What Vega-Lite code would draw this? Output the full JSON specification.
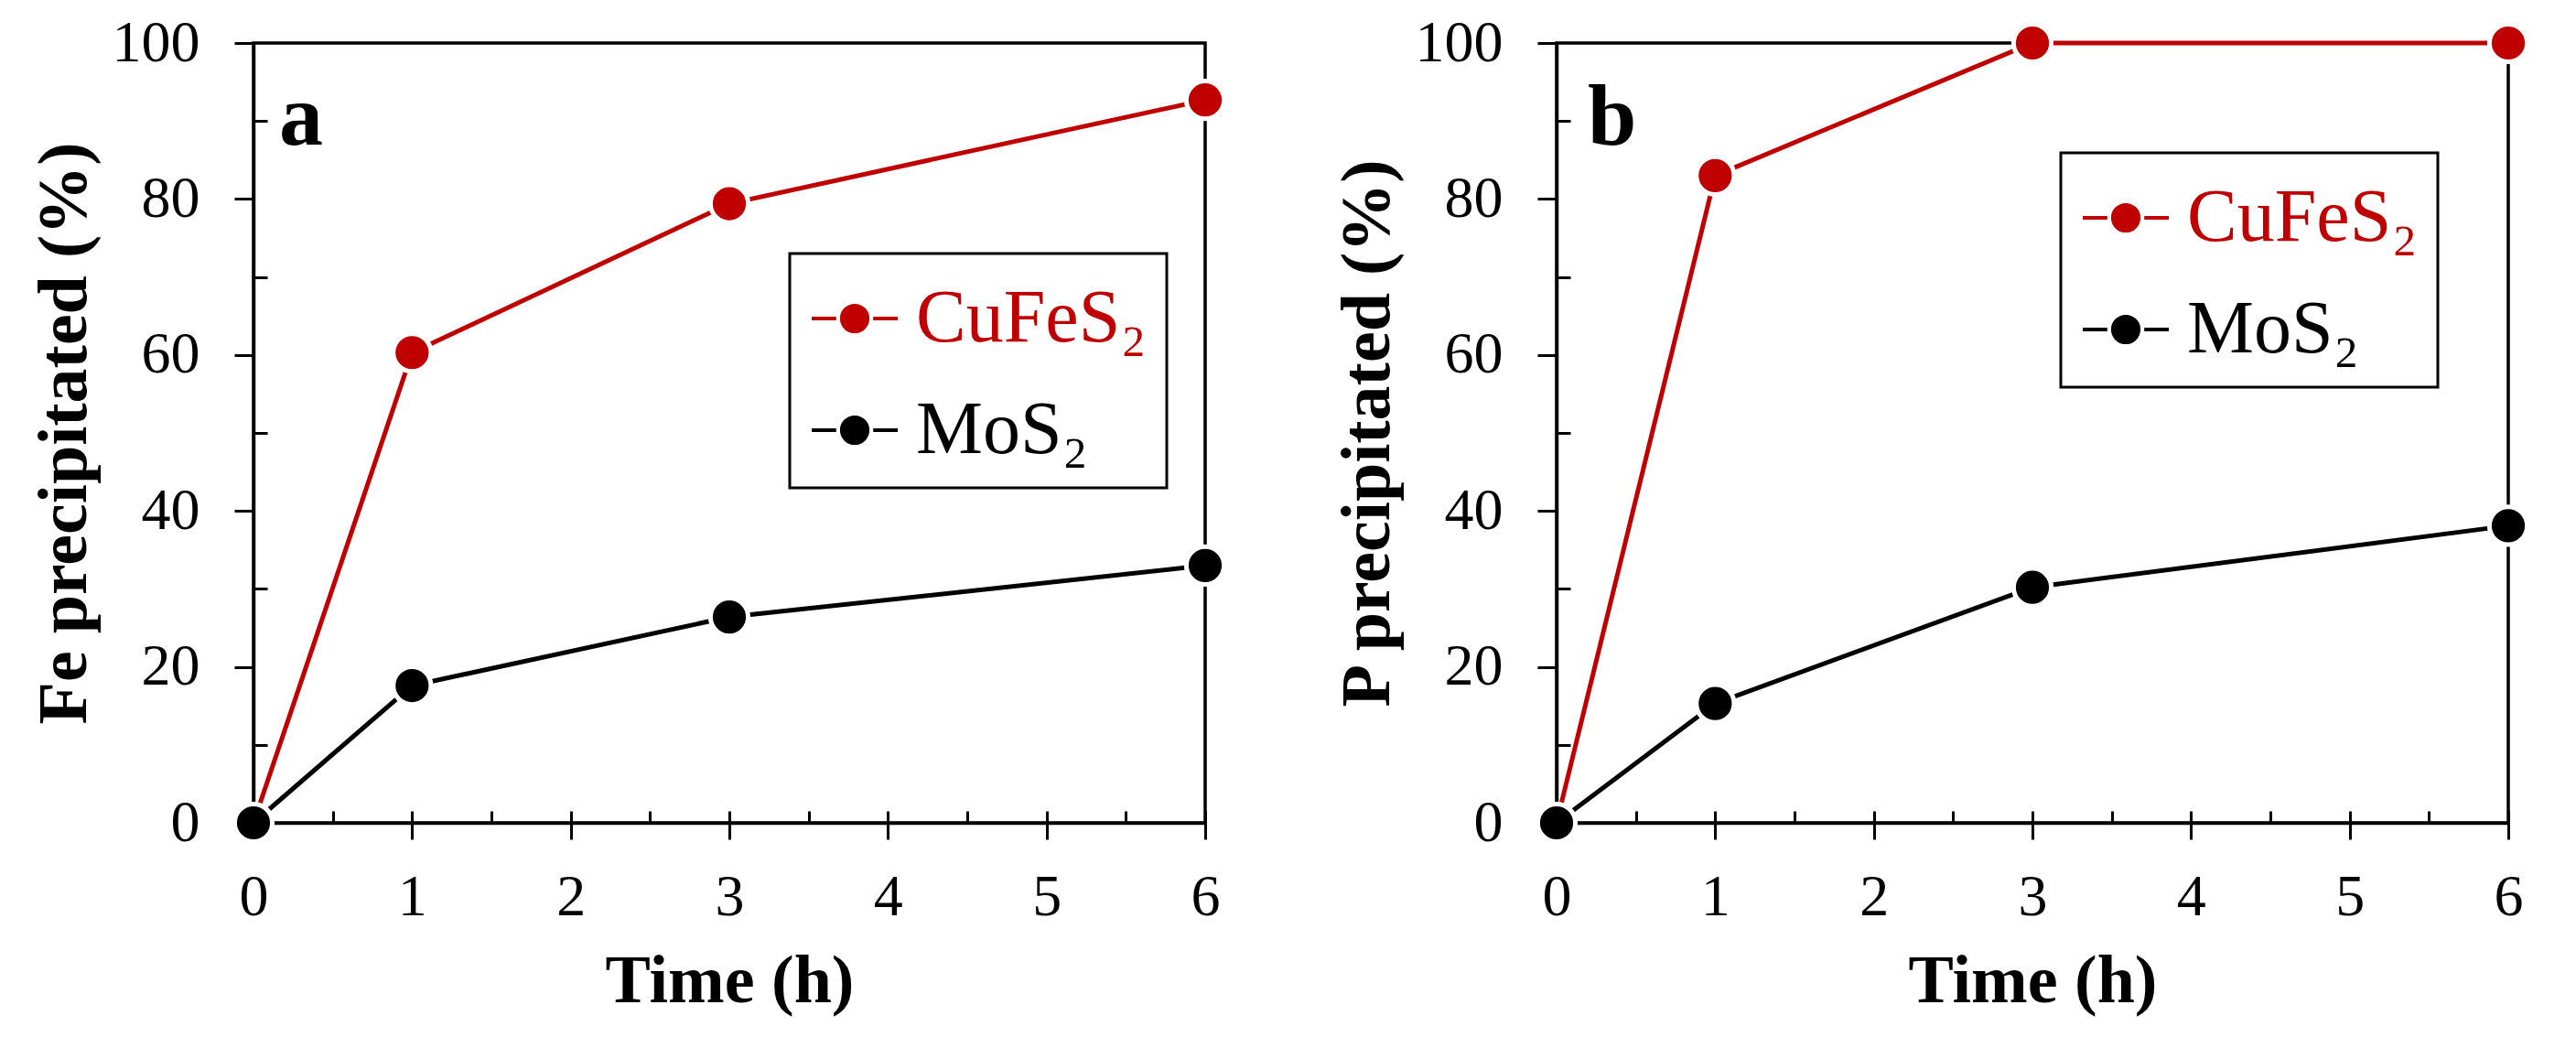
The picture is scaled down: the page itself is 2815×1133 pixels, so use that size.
{
  "$schema": "https://vega.github.io/schema/vega-lite/v6.json",
  "background": "white",
  "padding": {"left": 30, "top": 13, "right": 5, "bottom": 5},
  "spacing": 384,
  "bounds": "flush",
  "config": {
    "font": "Liberation Serif",
    "view": {"stroke": "black", "strokeWidth": 3.5},
    "axis": {
      "grid": false,
      "labelFlush": false,
      "labelOverlap": false,
      "domainColor": "black",
      "domainWidth": 3.5,
      "tickColor": "black",
      "tickWidth": 3,
      "labelFont": "Liberation Serif",
      "labelFontSize": 64,
      "labelColor": "black",
      "titleFont": "Liberation Serif",
      "titleFontSize": 74,
      "titleFontWeight": "bold",
      "titleColor": "black"
    }
  },
  "datasets": {
    "fe": [
      {"series": "CuFeS₂", "time": 0, "pct": 0},
      {"series": "CuFeS₂", "time": 1, "pct": 60.3},
      {"series": "CuFeS₂", "time": 3, "pct": 79.4},
      {"series": "CuFeS₂", "time": 6, "pct": 92.7},
      {"series": "MoS₂", "time": 0, "pct": 0},
      {"series": "MoS₂", "time": 1, "pct": 17.6},
      {"series": "MoS₂", "time": 3, "pct": 26.4},
      {"series": "MoS₂", "time": 6, "pct": 33.0}
    ],
    "p": [
      {"series": "CuFeS₂", "time": 0, "pct": 0},
      {"series": "CuFeS₂", "time": 1, "pct": 83.0},
      {"series": "CuFeS₂", "time": 3, "pct": 100},
      {"series": "CuFeS₂", "time": 6, "pct": 100},
      {"series": "MoS₂", "time": 0, "pct": 0},
      {"series": "MoS₂", "time": 1, "pct": 15.3},
      {"series": "MoS₂", "time": 3, "pct": 30.2},
      {"series": "MoS₂", "time": 6, "pct": 38.1}
    ]
  },
  "resolve": {
    "scale": {"x": "independent", "y": "independent", "color": "independent"},
    "axis": {"x": "independent", "y": "independent"},
    "legend": {"color": "independent"}
  },
  "hconcat": [
    {
      "width": 1040,
      "height": 852,
      "title": {"text": "a", "orient": "top", "anchor": "start", "frame": "group", "offset": 0, "baseline": "alphabetic", "dx": 28, "dy": 239, "font": "Liberation Serif", "fontSize": 96, "fontWeight": "bold", "color": "black"},
      "data": {"name": "fe"},
      "resolve": {"axis": {"x": "independent", "y": "independent"}},
      "layer": [
        {
          "mark": {"type": "line", "strokeWidth": 5},
          "encoding": {
            "x": {"field": "time", "type": "quantitative", "scale": {"domain": [0, 6], "nice": false},
              "axis": {"orient": "bottom", "title": "Time (h)", "values": [0, 1, 2, 3, 4, 5, 6], "tickSize": 18, "labelPadding": 82, "labelBaseline": "alphabetic", "titleBaseline": "alphabetic", "titleY": 195}},
            "y": {"field": "pct", "type": "quantitative", "scale": {"domain": [0, 100], "nice": false},
              "axis": {"orient": "left", "title": "Fe precipitated (%)", "titleFontSize": 76, "values": [0, 20, 40, 60, 80, 100], "tickSize": 21, "labelPadding": 38, "titleX": -184, "titleBaseline": "alphabetic"}},
            "color": {"field": "series", "type": "nominal",
              "scale": {"domain": ["CuFeS₂", "MoS₂"], "range": ["#C00000", "#000000"]},
              "legend": {
                "title": null, "orient": "none", "legendX": 586, "legendY": 230, "direction": "vertical",
                "padding": 22, "strokeColor": "black", "fillColor": "white",
                "symbolType": "M-1,0L-0.43,0M0.43,0L1,0M-0.3,0A0.3,0.3,0,1,1,0.3,0A0.3,0.3,0,1,1,-0.3,0Z",
                "symbolSize": 8836, "symbolStrokeWidth": 4, "symbolOpacity": 1,
                "labelFont": "Liberation Serif", "labelFontSize": 82, "labelOffset": 18, "labelLimit": 1000, "rowPadding": 32,
                "encode": {
                  "legend": {"update": {"strokeWidth": {"value": 3}}},
                  "symbols": {"update": {"fill": {"signal": "datum.value === 'MoS₂' ? '#000000' : '#C00000'"}, "stroke": {"signal": "datum.value === 'MoS₂' ? '#000000' : '#C00000'"}, "opacity": {"value": 1}}},
                  "labels": {"update": {"fill": {"signal": "datum.value === 'MoS₂' ? '#000000' : '#C00000'"}}}
                }
              }}
          }
        },
        {
          "mark": {"type": "point", "filled": true, "size": 1700, "stroke": "white", "strokeWidth": 5, "opacity": 1},
          "encoding": {
            "x": {"field": "time", "type": "quantitative",
              "axis": {"orient": "bottom", "title": null, "labels": false, "domain": false, "values": [0.5, 1, 1.5, 2, 2.5, 3, 3.5, 4, 4.5, 5, 5.5, 6], "tickSize": -13}},
            "y": {"field": "pct", "type": "quantitative",
              "axis": {"orient": "left", "title": null, "labels": false, "domain": false, "values": [10, 30, 50, 70, 90], "tickSize": -15}},
            "color": {"field": "series", "type": "nominal"}
          }
        }
      ]
    },
    {
      "width": 1040,
      "height": 852,
      "title": {"text": "b", "orient": "top", "anchor": "start", "frame": "group", "offset": 0, "baseline": "alphabetic", "dx": 34, "dy": 239, "font": "Liberation Serif", "fontSize": 96, "fontWeight": "bold", "color": "black"},
      "data": {"name": "p"},
      "resolve": {"axis": {"x": "independent", "y": "independent"}},
      "layer": [
        {
          "mark": {"type": "line", "strokeWidth": 5},
          "encoding": {
            "x": {"field": "time", "type": "quantitative", "scale": {"domain": [0, 6], "nice": false},
              "axis": {"orient": "bottom", "title": "Time (h)", "values": [0, 1, 2, 3, 4, 5, 6], "tickSize": 18, "labelPadding": 82, "labelBaseline": "alphabetic", "titleBaseline": "alphabetic", "titleY": 195}},
            "y": {"field": "pct", "type": "quantitative", "scale": {"domain": [0, 100], "nice": false},
              "axis": {"orient": "left", "title": "P precipitated (%)", "titleFontSize": 76, "values": [0, 20, 40, 60, 80, 100], "tickSize": 21, "labelPadding": 38, "titleX": -184, "titleBaseline": "alphabetic"}},
            "color": {"field": "series", "type": "nominal",
              "scale": {"domain": ["CuFeS₂", "MoS₂"], "range": ["#C00000", "#000000"]},
              "legend": {
                "title": null, "orient": "none", "legendX": 551, "legendY": 120, "direction": "vertical",
                "padding": 22, "strokeColor": "black", "fillColor": "white",
                "symbolType": "M-1,0L-0.43,0M0.43,0L1,0M-0.3,0A0.3,0.3,0,1,1,0.3,0A0.3,0.3,0,1,1,-0.3,0Z",
                "symbolSize": 8836, "symbolStrokeWidth": 4, "symbolOpacity": 1,
                "labelFont": "Liberation Serif", "labelFontSize": 82, "labelOffset": 18, "labelLimit": 1000, "rowPadding": 32,
                "encode": {
                  "legend": {"update": {"strokeWidth": {"value": 3}}},
                  "symbols": {"update": {"fill": {"signal": "datum.value === 'MoS₂' ? '#000000' : '#C00000'"}, "stroke": {"signal": "datum.value === 'MoS₂' ? '#000000' : '#C00000'"}, "opacity": {"value": 1}}},
                  "labels": {"update": {"fill": {"signal": "datum.value === 'MoS₂' ? '#000000' : '#C00000'"}}}
                }
              }}
          }
        },
        {
          "mark": {"type": "point", "filled": true, "size": 1700, "stroke": "white", "strokeWidth": 5, "opacity": 1},
          "encoding": {
            "x": {"field": "time", "type": "quantitative",
              "axis": {"orient": "bottom", "title": null, "labels": false, "domain": false, "values": [0.5, 1, 1.5, 2, 2.5, 3, 3.5, 4, 4.5, 5, 5.5, 6], "tickSize": -13}},
            "y": {"field": "pct", "type": "quantitative",
              "axis": {"orient": "left", "title": null, "labels": false, "domain": false, "values": [10, 30, 50, 70, 90], "tickSize": -15}},
            "color": {"field": "series", "type": "nominal"}
          }
        }
      ]
    }
  ]
}
